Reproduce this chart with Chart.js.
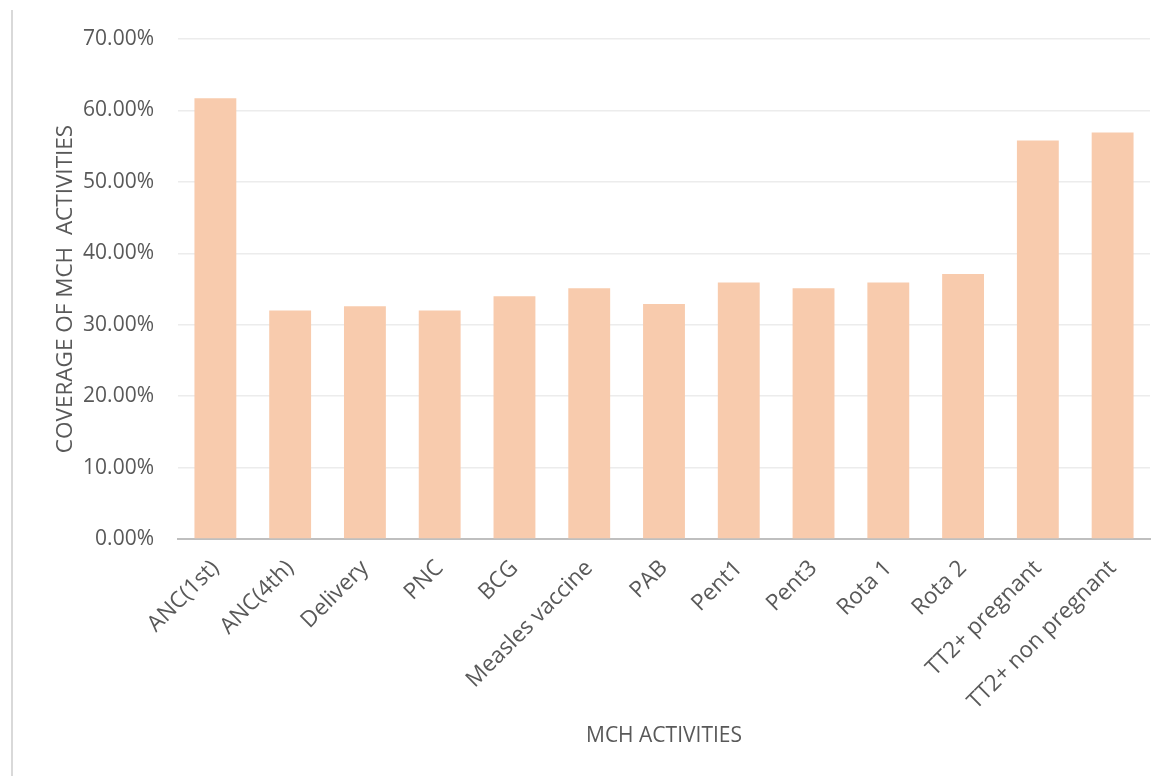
<!DOCTYPE html>
<html>
<head>
<meta charset="utf-8">
<script src="https://cdn.jsdelivr.net/npm/chart.js@4/dist/chart.umd.min.js"></script>
<style>
  body { margin: 0; background: #fff; }
  #wrap { position: relative; width: 1165px; height: 776px; }
  #edge { position: absolute; left: 11px; top: 10px; width: 2px; height: 766px; background: #d9d9d9; }
  canvas { position: absolute; left: 0; top: 0; }
</style>
</head>
<body>
<div id="wrap">
  <canvas id="chart" width="1165" height="776"></canvas>
  <div id="edge"></div>
</div>
<script>
// MCH activity coverage (%)
const categories = [
  'ANC(1st)', 'ANC(4th)', 'Delivery', 'PNC', 'BCG', 'Measles vaccine', 'PAB',
  'Pent1', 'Pent3', 'Rota 1', 'Rota 2', 'TT2+ pregnant', 'TT2+ non pregnant'
];
const coverage = [61.7, 32.0, 32.6, 32.0, 34.0, 35.1, 32.9, 35.9, 35.1, 35.9, 37.1, 55.8, 56.9];
const yMin = 0;
const yMax = 70;
const yStep = 10;

const textColor = '#595959';
const fontFamily = '"Open Sans", sans-serif';

new Chart(document.getElementById('chart'), {
  type: 'bar',
  data: {
    labels: categories,
    datasets: [{
      label: 'Coverage',
      data: coverage,
      backgroundColor: '#F8CBAD',
      categoryPercentage: 1,
      barPercentage: 0.56
    }]
  },
  options: {
    responsive: false,
    animation: false,
    layout: { padding: { top: 39, right: 15, bottom: 0, left: 0 } },
    plugins: {
      legend: { display: false },
      tooltip: { enabled: false }
    },
    scales: {
      x: {
        grid: { display: false, drawTicks: false },
        border: { display: true, color: '#bfbfbf', width: 2 },
        ticks: {
          color: textColor,
          font: { family: fontFamily, size: 22.5 },
          minRotation: 45,
          maxRotation: 45,
          padding: 16,
          autoSkip: false
        },
        title: {
          display: true,
          text: 'MCH ACTIVITIES',
          color: textColor,
          font: { family: fontFamily, size: 21 },
          padding: { top: 0, bottom: 27 }
        },
        afterFit: (scale) => { scale.height = 237; }
      },
      y: {
        min: yMin,
        max: yMax,
        grid: { color: '#ececec', lineWidth: 1.5, drawTicks: false },
        border: { display: false },
        ticks: {
          stepSize: yStep,
          color: textColor,
          font: { family: fontFamily, size: 21 },
          padding: 24,
          callback: (v) => v.toFixed(2) + '%'
        },
        title: {
          display: true,
          text: 'COVERAGE OF MCH  ACTIVITIES',
          color: textColor,
          font: { family: fontFamily, size: 22.5 },
          padding: { top: 52, bottom: 0 }
        },
        afterFit: (scale) => { scale.width = 178; }
      }
    }
  }
});
</script>
</body>
</html>
